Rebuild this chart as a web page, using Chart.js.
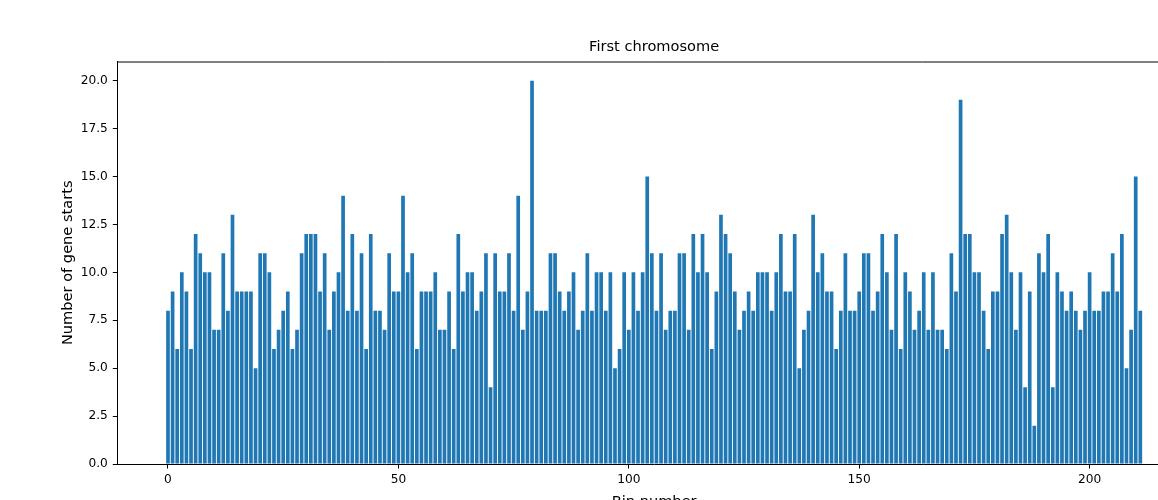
<!DOCTYPE html>
<html>
<head>
<meta charset="utf-8">
<script src="https://cdn.jsdelivr.net/npm/chart.js@4.4.1/dist/chart.umd.min.js"></script>
<style>
  html, body { margin: 0; padding: 0; overflow: hidden; background: #fff; }
  #wrap { position: relative; width: 1200px; height: 520px; }
</style>
</head>
<body>
<div id="wrap"><canvas id="chart"></canvas></div>
<script>
// gene starts per bin, bins 0..211
const geneStarts = [
  8, 9, 6, 10, 9, 6, 12, 11, 10, 10, 7, 7, 11, 8, 13, 9, 9, 9, 9, 5,
  11, 11, 10, 6, 7, 8, 9, 6, 7, 11, 12, 12, 12, 9, 11, 7, 9, 10, 14, 8,
  12, 8, 11, 6, 12, 8, 8, 7, 11, 9, 9, 14, 10, 11, 6, 9, 9, 9, 10, 7,
  7, 9, 6, 12, 9, 10, 10, 8, 9, 11, 4, 11, 9, 9, 11, 8, 14, 7, 9, 20,
  8, 8, 8, 11, 11, 9, 8, 9, 10, 7, 8, 11, 8, 10, 10, 8, 10, 5, 6, 10,
  7, 10, 8, 10, 15, 11, 8, 11, 7, 8, 8, 11, 11, 7, 12, 10, 12, 10, 6, 9,
  13, 12, 11, 9, 7, 8, 9, 8, 10, 10, 10, 8, 10, 12, 9, 9, 12, 5, 7, 8,
  13, 10, 11, 9, 9, 6, 8, 11, 8, 8, 9, 11, 11, 8, 9, 12, 10, 7, 12, 6,
  10, 9, 7, 8, 10, 7, 10, 7, 7, 6, 11, 9, 19, 12, 12, 10, 10, 8, 6, 9,
  9, 12, 13, 10, 7, 10, 4, 9, 2, 11, 10, 12, 4, 10, 9, 8, 9, 8, 7, 8,
  10, 8, 8, 9, 9, 11, 9, 12, 5, 7, 15, 8
];
const binNumbers = geneStarts.map((_, i) => i);
const xTicks = [0, 50, 100, 150, 200];
const yTicks = [0, 2.5, 5, 7.5, 10, 12.5, 15, 17.5, 20];

const FONT = 'DejaVu Sans';

// matplotlib style top/right spines
const framePlugin = {
  id: 'frame',
  afterDraw(chart) {
    const { ctx, chartArea: a } = chart;
    ctx.save();
    ctx.strokeStyle = '#000';
    ctx.lineWidth = 1;
    ctx.beginPath();
    ctx.moveTo(a.left, a.top + 0.5);
    ctx.lineTo(a.right, a.top + 0.5);
    ctx.lineTo(a.right, a.bottom);
    ctx.stroke();
    ctx.restore();
  }
};

new Chart(document.getElementById('chart'), {
  type: 'bar',
  data: {
    datasets: [{
      data: binNumbers.map((b, i) => ({ x: b, y: geneStarts[i] })),
      backgroundColor: '#1f77b4',
      borderWidth: 0,
      barPercentage: 0.8,
      categoryPercentage: 1
    }]
  },
  options: {
    responsive: true,
    maintainAspectRatio: false,
    animation: false,
    events: [],
    layout: { padding: { left: 0, right: 9, top: 0, bottom: 0 } },
    plugins: {
      legend: { display: false },
      tooltip: { enabled: false },
      title: {
        display: true,
        text: 'First chromosome',
        fullSize: false,
        color: '#000',
        font: { family: FONT, size: 14.6, weight: 'normal', lineHeight: 1.2 },
        padding: { top: 38, bottom: 6 }
      }
    },
    scales: {
      x: {
        type: 'linear',
        min: -11,
        max: 222,
        offset: false,
        afterBuildTicks: (s) => { s.ticks = xTicks.map(v => ({ value: v })); },
        afterFit: (s) => { s.height = 56; },
        ticks: {
          color: '#000',
          font: { family: FONT, size: 12.2 },
          padding: 4,
          maxRotation: 0,
          autoSkip: false,
          callback: (v) => String(v)
        },
        grid: { offset: false, drawOnChartArea: false, drawTicks: true, tickLength: 4.5, color: '#000' },
        border: { display: true, color: '#000', width: 1 },
        title: {
          display: true,
          text: 'Bin number',
          color: '#000',
          font: { family: FONT, size: 14.6 },
          padding: { top: 4, bottom: 9.5 }
        }
      },
      y: {
        min: 0,
        max: 21,
        afterBuildTicks: (s) => { s.ticks = yTicks.map(v => ({ value: v })); },
        afterFit: (s) => { s.width = 117.3; },
        ticks: {
          color: '#000',
          font: { family: FONT, size: 12.2 },
          padding: 5,
          autoSkip: false,
          callback: (v) => Number(v).toFixed(1)
        },
        grid: { drawOnChartArea: false, drawTicks: true, tickLength: 4.5, color: '#000' },
        border: { display: true, color: '#000', width: 1 },
        title: {
          display: true,
          text: 'Number of gene starts',
          color: '#000',
          font: { family: FONT, size: 14.6 },
          padding: { top: 59.2, bottom: 0 }
        }
      }
    }
  },
  plugins: [framePlugin]
});
</script>
</body>
</html>
